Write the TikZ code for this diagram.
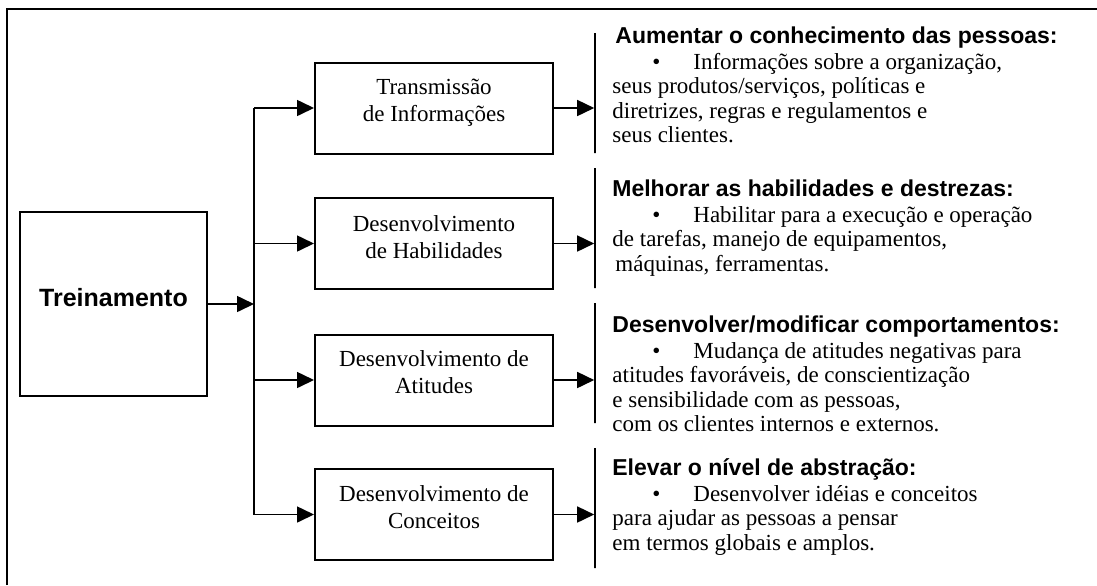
\documentclass[tikz,border=0pt]{standalone}
\usepackage{fontspec}
\setmainfont{Liberation Serif}
\newfontfamily\headfont{Liberation Sans}
\usetikzlibrary{positioning,arrows.meta}

\tikzset{
  box/.style={draw=black,line width=1pt,minimum width=119pt,minimum height=45.5pt,inner sep=0pt},
  boxtxt/.style={align=center,inner sep=0pt,font=\fontsize{11.5}{13.5}\selectfont},
  bar/.style={draw=black,line width=0.8pt,minimum width=0pt,minimum height=60pt,inner sep=0pt},
  link/.style={-{Triangle[length=8.5pt,width=8pt]},draw=black,line width=0.8pt},
  note/.style={anchor=north west,align=left,inner sep=0pt,font=\fontsize{11.5}{12.25}\selectfont},
}
\newcommand{\hd}[1]{{\rule{0pt}{11pt}\headfont\bfseries #1}\\[0.75pt]}
\newcommand{\bul}{\hspace*{20pt}\makebox[20.5pt][l]{•}}

\begin{document}
\begin{tikzpicture}[x=0.5pt,y=-0.5pt]
\useasboundingbox (0,0) rectangle (1097,585);
\draw[line width=1.2pt] (7,585) -- (7,9) -- (1097,9);

% main box
\node[box,minimum width=93.5pt,minimum height=92pt,text depth=7pt,
  font=\headfont\bfseries\fontsize{12.5}{15}\selectfont] (tr) at (113.5,304) {Treinamento};
\coordinate (j) at (254,304);

% the four kinds of training
\node[box] (b1) at (434,108) {};
\node[box] (b2) at (434,243.5) {};
\node[box] (b3) at (434,380) {};
\node[box] (b4) at (434,514.5) {};
\node[boxtxt,below=8.3pt of b1.north] (t1) {Transmissão\\de Informações};
\node[boxtxt,below=9pt of b2.north] (t2) {Desenvolvimento\\de Habilidades};
\node[boxtxt,below=8.3pt of b3.north] (t3) {Desenvolvimento de\\Atitudes};
\node[boxtxt,below=8.6pt of b4.north] (t4) {Desenvolvimento de\\Conceitos};

% bars
\node[bar] (k1) at (595,93) {};
\node[bar] (k2) at (595,228) {};
\node[bar] (k3) at (595,363) {};
\node[bar] (k4) at (595,508) {};

\path[link] (tr.east) -- (j);
\draw[line width=0.8pt] (j |- b1.west) -- (j |- b4.west);
\foreach \i in {1,...,4}{
  \path[link] (j |- b\i.west) -- (b\i.west);
  \path[link] (b\i.east) -- (b\i.east -| k\i.west);
}

% texts
\node[note] (n1) at (612,21) {\hd{\hspace*{1.5pt}Aumentar o conhecimento das pessoas:}%
  \bul Informações sobre a organização,\\
  seus produtos/serviços, políticas e\\
  diretrizes, regras e regulamentos e\\
  seus clientes.};
\node[note] (n2) at (612,174) {\hd{Melhorar as habilidades e destrezas:}%
  \bul Habilitar para a execução e operação\\
  de tarefas, manejo de equipamentos,\\
  \hspace*{1.5pt}máquinas, ferramentas.};
\node[note] (n3) at (612,310) {\hd{Desenvolver/modificar comportamentos:}%
  \bul Mudança de atitudes negativas para\\
  atitudes favoráveis, de conscientização\\
  e sensibilidade com as pessoas,\\
  com os clientes internos e externos.};
\node[note] (n4) at (612,453) {\hd{Elevar o nível de abstração:}%
  \bul Desenvolver idéias e conceitos\\
  para ajudar as pessoas a pensar\\
  em termos globais e amplos.};
\end{tikzpicture}
\end{document}
